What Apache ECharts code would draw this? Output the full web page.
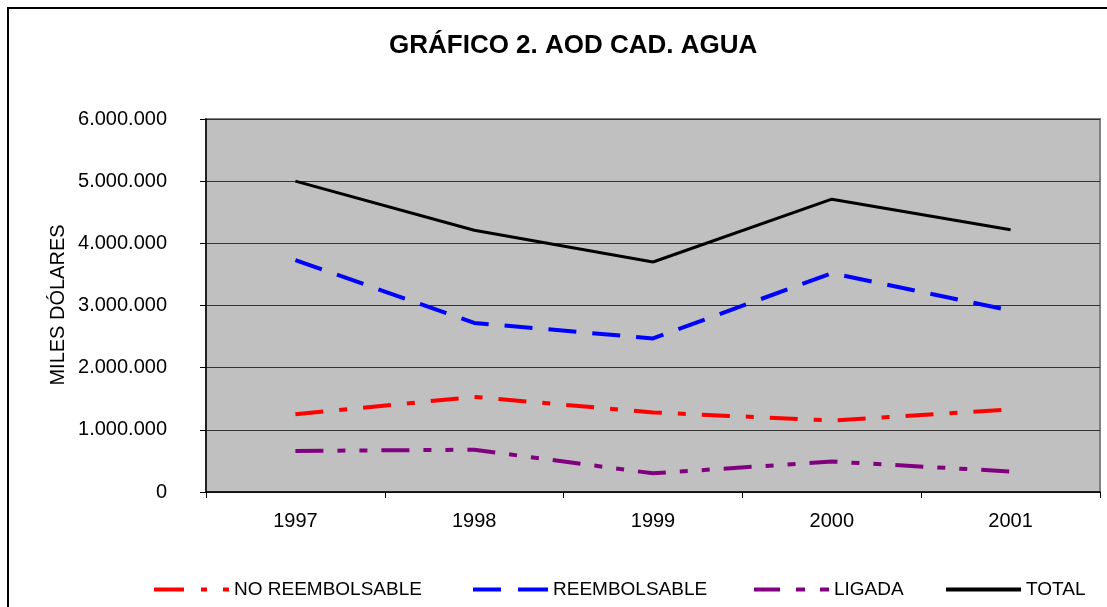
<!DOCTYPE html>
<html>
<head>
<meta charset="utf-8">
<script src="https://cdn.jsdelivr.net/npm/echarts@6/dist/echarts.min.js"></script>
<style>
html,body{margin:0;padding:0;background:#fff;}
#chart{width:1107px;height:607px;}
</style>
</head>
<body>
<div id="chart"></div>
<script>
const categories = ['1997', '1998', '1999', '2000', '2001'];
const noReembolsable = [1250000, 1530000, 1280000, 1150000, 1330000];
const reembolsable = [3730000, 2720000, 2470000, 3520000, 2920000];
const ligada = [660000, 680000, 300000, 490000, 330000];
const total = [5000000, 4210000, 3700000, 4710000, 4220000];
const seriesNames = ['NO REEMBOLSABLE', 'REEMBOLSABLE', 'LIGADA', 'TOTAL'];
const yTicks = [0, 1000000, 2000000, 3000000, 4000000, 5000000, 6000000];

const FONT = 'Liberation Sans, Arial, sans-serif';
const chart = echarts.init(document.getElementById('chart'), null, {renderer: 'canvas'});

function fmt(v) {
  return String(v).replace(/\B(?=(\d{3})+(?!\d))/g, '.');
}

const styles = [
  {color: '#FF0000', width: 4, type: [28, 16, 8, 16]},
  {color: '#0000FF', width: 4, type: [28, 16]},
  {color: '#800080', width: 4, type: [28, 14, 8, 14, 8, 14]},
  {color: '#000000', width: 3, type: 'solid'}
];
// legend swatches drawn as dashed paths (75 x 4)
const legendIcons = [
  'path://M0 0h30v4h-30zM47 0h6v4h-6zM69 0h6v4h-6z',
  'path://M0 0h28v4h-28zM45 0h30v4h-30z',
  'path://M0 0h26v4h-26zM42 0h9v4h-9zM66 0h9v4h-9z',
  'path://M0 0h75v4h-75z'
];
const datas = [noReembolsable, reembolsable, ligada, total];
const legendLefts = [149, 468, 749, 941];

const option = {
  backgroundColor: '#ffffff',
  animation: false,
  title: {
    text: 'GRÁFICO 2. AOD CAD. AGUA',
    left: 384,
    top: 28,
    textStyle: {fontFamily: FONT, fontSize: 26, fontWeight: 'bold', color: '#000'}
  },
  legend: seriesNames.map((n, i) => ({
    data: [{name: n, icon: legendIcons[i]}],
    left: legendLefts[i],
    top: 575,
    itemWidth: 75,
    itemHeight: 4,
    itemGap: 5,
    textStyle: {fontFamily: FONT, fontSize: 19, color: '#000'}
  })),
  grid: {
    left: 206, right: 7, top: 119, bottom: 115,
    show: true,
    backgroundColor: '#C0C0C0',
    borderColor: '#808080',
    borderWidth: 2
  },
  xAxis: {
    type: 'category',
    data: categories,
    boundaryGap: true,
    axisLine: {lineStyle: {color: '#000', width: 1.5}},
    axisTick: {show: true, inside: false, length: 6, lineStyle: {color: '#000'}},
    axisLabel: {fontFamily: FONT, fontSize: 20, color: '#000', margin: 19},
    splitLine: {show: false}
  },
  yAxis: {
    type: 'value',
    min: 0,
    max: 6000000,
    interval: 1000000,
    axisLine: {show: true, lineStyle: {color: '#000', width: 1.5}},
    axisTick: {show: true, inside: false, length: 6, lineStyle: {color: '#000'}},
    axisLabel: {
      fontFamily: FONT, fontSize: 20, color: '#000', margin: 39,
      formatter: v => yTicks.indexOf(v) >= 0 ? fmt(v) : ''
    },
    splitLine: {show: true, lineStyle: {color: '#333', width: 1}}
  },
  graphic: [
    {
      type: 'rect',
      shape: {x: 8, y: 8, width: 1200, height: 700},
      style: {fill: 'none', stroke: '#000', lineWidth: 2},
      silent: true, z: 100
    },
    {
      type: 'text',
      x: 58, y: 305,
      rotation: Math.PI / 2,
      style: {
        text: 'MILES DÓLARES',
        fontFamily: FONT, fontSize: 20, fill: '#000',
        textAlign: 'center', textVerticalAlign: 'middle'
      }
    }
  ],
  series: seriesNames.map((n, i) => ({
    name: n,
    type: 'line',
    data: datas[i],
    symbol: 'none',
    showSymbol: false,
    itemStyle: {color: styles[i].color},
    lineStyle: {color: styles[i].color, width: styles[i].width, type: styles[i].type, cap: 'butt'},
    z: 10 + i
  }))
};
chart.setOption(option);
</script>
</body>
</html>
